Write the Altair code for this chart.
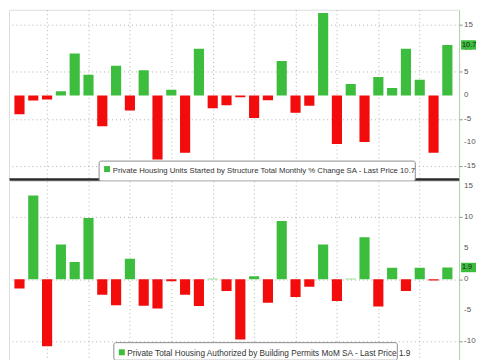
import altair as alt
import pandas as pd

# ---- data ----
months = list(range(1, 33))
starts = [-4.0, -1.1, -0.9, 0.85, 8.9, 4.4, -6.55, 6.3, -3.2, 5.35, -13.6, 1.2,
          -12.2, 9.9, -2.75, -2.1, -0.4, -4.8, -1.05, 7.3, -3.7, -2.2, 17.5, -10.3,
          2.4, -9.9, 3.9, 1.55, 9.9, 3.3, -12.2, 10.7]
permits = [-1.5, 13.5, -10.8, 5.6, 2.8, 9.9, -2.5, -4.2, 3.3, -4.25, -4.7, -0.3,
           -2.5, -4.3, 0.1, -1.9, -9.7, 0.5, -3.8, 9.4, -2.85, -1.2, 5.6, -3.5,
           0.1, 6.8, -4.4, 1.85, -1.9, 1.85, -0.2, 1.9]
starts_title = "Private Housing Units Started by Structure Total Monthly % Change SA - Last Price 10.7"
permits_title = "Private Total Housing Authorized by Building Permits MoM SA - Last Price 1.9"
starts_last = ["10.7"]
permits_last = ["1.9"]
top_ticks = [-15, -10, -5, 0, 5, 10, 15]
top_tick_labels = ["-15", "-10", "-5", "0", "5", "10", "15"]
bottom_ticks = [-10, -5, 0, 5, 10, 15]
bottom_tick_labels = ["-10", "-5", "0", "5", "10", "15"]
grid_months = [3, 6, 9, 12, 15, 18, 21, 24, 27, 30]

GREEN = "#3dbd3d"
RED = "#f20c0c"
FONT = "Liberation Sans"
W = 452
XDOM = [0.6014, 32.489]


def panel(values, ticks, tick_labels, ydom, height, title, tsize, last, sep,
          box, sq, txt):
    df = pd.DataFrame({"m": months, "v": values})
    x = alt.X("m:Q", scale=alt.Scale(domain=XDOM, nice=False, zero=False),
              axis=alt.Axis(values=grid_months, grid=True, gridColor="#b0b0b0",
                            gridDash=[1, 3], labels=False, ticks=False,
                            domain=sep, domainColor="#2a2a2a", domainWidth=2.5,
                            title=None))
    y = alt.Y("v:Q", scale=alt.Scale(domain=ydom, nice=False),
              axis=alt.Axis(orient="right", values=ticks, grid=True,
                            gridColor="#b0b0b0", gridDash=[1, 3],
                            domainColor="#a9d6a9", tickColor="#8a8a8a",
                            tickSize=3, labels=False, title=None))
    bars = alt.Chart(df).mark_bar(size=10.2, clip=True).encode(
        x=x, y=y, y2=alt.datum(0),
        color=alt.condition("datum.v >= 0", alt.value(GREEN), alt.value(RED)),
    )
    kdf = pd.DataFrame({"v": ticks, "s": tick_labels})
    klab = alt.Chart(kdf).mark_text(align="left", baseline="middle", font=FONT,
                                    fontSize=8, color="#555555").encode(
        x=alt.value(W + 5), y="v:Q", text="s:N")
    tdf = pd.DataFrame({"t": [title]})
    boxm = alt.Chart(tdf).mark_rect(fill="white", stroke="#8c8c8c",
                                    strokeWidth=1, cornerRadius=2).encode(
        x=alt.value(box[0]), x2=alt.value(box[1]),
        y=alt.value(box[2]), y2=alt.value(box[3]))
    sqm = alt.Chart(tdf).mark_rect(fill=GREEN).encode(
        x=alt.value(sq[0]), x2=alt.value(sq[1]),
        y=alt.value(sq[2]), y2=alt.value(sq[3]))
    txtm = alt.Chart(tdf).mark_text(align="left", baseline="alphabetic",
                                    font=FONT, fontSize=tsize,
                                    color="#333333").encode(
        x=alt.value(txt[0]), y=alt.value(txt[1]), text="t:N")
    ldf = pd.DataFrame({"v": [float(last[0])], "s": last})
    lp = alt.Chart(ldf).mark_point(shape="M-1,-0.63H1V0.63H-1Z", filled=True,
                                   size=225, opacity=1, color=GREEN).encode(
        x=alt.value(W + 9.5), y="v:Q")
    lt = alt.Chart(ldf).mark_text(align="left", baseline="middle", font=FONT,
                                  fontSize=7.3, color="#1a1a1a").encode(
        x=alt.value(W + 3), y="v:Q", text="s:N")
    return alt.layer(bars, klab, boxm, sqm, txtm, lp, lt).properties(
        width=W, height=height)


top = panel(starts, top_ticks, top_tick_labels, [-17.75, 18.17], 170,
            starts_title, 7.8, starts_last, True,
            (90.5, 408, 152, 172), (95.5, 101.5, 157, 163), (104.3, 163.8))
bottom = panel(permits, bottom_ticks, bottom_tick_labels, [-13.06, 15.85], 180,
               permits_title, 8.3, permits_last, False,
               (105.3, 390, 162.3, 180), (110.3, 116.3, 169, 175),
               (118.7, 175.8))

chart = alt.vconcat(top, bottom, spacing=2).properties(
    bounds="flush", padding={"left": 0, "top": 0, "right": 0, "bottom": 0}
).configure_view(stroke=None).configure(background="white")

chart.save("out.html", embed_options={"renderer": "svg", "actions": False})
